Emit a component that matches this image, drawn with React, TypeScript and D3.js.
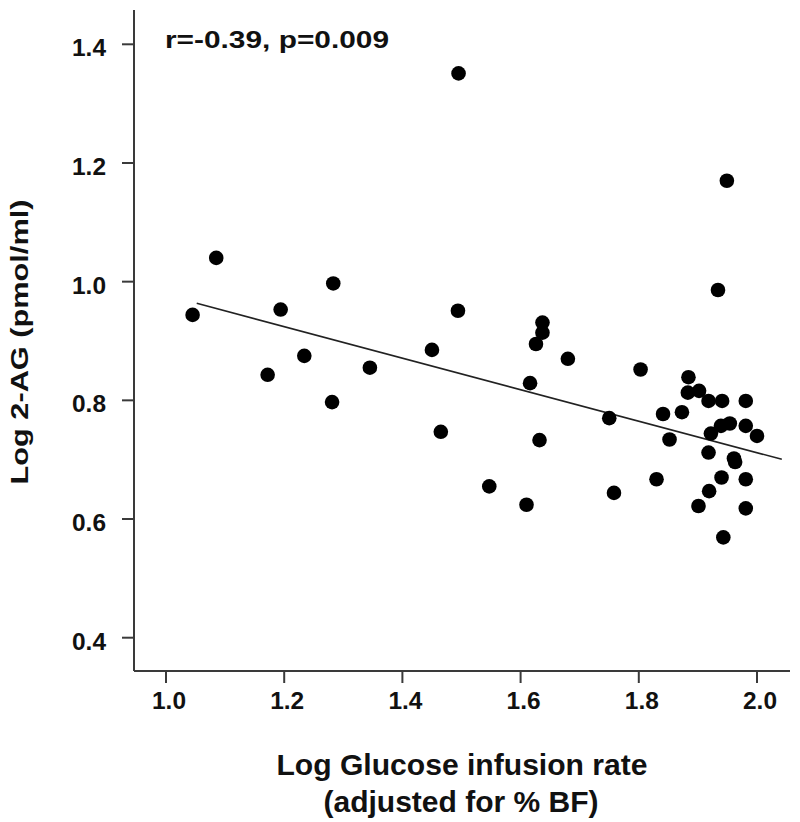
import React from "react";
import * as d3 from "d3";

const xValues = [
  1.085, 1.283, 1.495, 1.949, 1.934,
  1.045, 1.194, 1.494, 1.172, 1.234, 1.281, 1.345, 1.450, 1.465, 1.547,
  1.637, 1.637, 1.626, 1.680, 1.616, 1.632, 1.610, 1.803, 1.750, 1.758,
  1.841, 1.852, 1.830, 1.873, 1.884, 1.883, 1.902, 1.918, 1.941, 1.981,
  1.922, 1.939, 1.954, 1.981, 2.000, 1.918, 1.961, 1.963, 1.940, 1.981,
  1.919, 1.901, 1.981, 1.943,
];
const yValues = [
  1.040, 0.997, 1.351, 1.170, 0.986,
  0.944, 0.953, 0.951, 0.843, 0.875, 0.797, 0.855, 0.885, 0.747, 0.655,
  0.931, 0.914, 0.895, 0.870, 0.829, 0.733, 0.624, 0.852, 0.770, 0.644,
  0.777, 0.734, 0.667, 0.780, 0.839, 0.813, 0.816, 0.799, 0.799, 0.799,
  0.744, 0.757, 0.761, 0.757, 0.740, 0.712, 0.702, 0.696, 0.670, 0.667,
  0.647, 0.622, 0.618, 0.569,
];
const fitX = [1.052, 2.042];
const fitY = [0.9635, 0.7006];
const xTicks = [1.0, 1.2, 1.4, 1.6, 1.8, 2.0];
const yTicks = [0.4, 0.6, 0.8, 1.0, 1.2, 1.4];
const annotation = "r=-0.39, p=0.009";
const xTitle = ["Log Glucose infusion rate", "(adjusted for % BF)"];
const yTitle = "Log 2-AG (pmol/ml)";

export default function App() {
  const W = 800, H = 822;
  const x = d3.scaleLinear().domain([1.0, 2.0]).range([166, 757]);
  const y = d3.scaleLinear().domain([0.4, 1.4]).range([637.7, 44.3]);
  const axX0 = 134, axX1 = 790, axY = 671, axTop = 10;
  const font = "Liberation Sans, Arial, Helvetica, sans-serif";
  const line = d3.line<number>().x((_, i) => x(fitX[i])).y((d) => y(d));
  const fmt = d3.format(".1f");
  const ink = "#111";
  return (
    <svg width={W} height={H} style={{ position: "absolute", left: 0, top: 0, background: "#fff" }} fontFamily={font}>
      <rect width={W} height={H} fill="#fff" />
      {/* axes */}
      <line x1={axX0} x2={axX0} y1={axTop} y2={axY} stroke="#3a3a3a" strokeWidth={2} />
      <line x1={axX0} x2={axX1} y1={axY} y2={axY} stroke="#3a3a3a" strokeWidth={2} />
      {yTicks.map((t) => (
        <g key={"y" + t}>
          <line x1={axX0 - 12} x2={axX0} y1={y(t)} y2={y(t)} stroke="#3a3a3a" strokeWidth={2} />
          <text x={106} y={y(t) + 12} textAnchor="end" fontSize={24.5} fontWeight="bold" fill={ink}
            textLength={34} lengthAdjust="spacingAndGlyphs">{fmt(t)}</text>
        </g>
      ))}
      {xTicks.map((t) => (
        <g key={"x" + t}>
          <line x1={x(t)} x2={x(t)} y1={axY} y2={axY + 12} stroke="#3a3a3a" strokeWidth={2} />
          <text x={x(t) + 3} y={709} textAnchor="middle" fontSize={24.5} fontWeight="bold" fill={ink}
            textLength={34} lengthAdjust="spacingAndGlyphs">{fmt(t)}</text>
        </g>
      ))}
      {/* regression line */}
      <path d={line(fitY) || ""} fill="none" stroke="#222" strokeWidth={1.6} />
      {/* points */}
      {xValues.map((xv, i) => (
        <circle key={i} cx={x(xv)} cy={y(yValues[i])} r={7.3} fill="#000" />
      ))}
      {/* annotation */}
      <text x={165} y={47.5} fontSize={24} fontWeight="bold" fill={ink}
        textLength={224} lengthAdjust="spacingAndGlyphs">{annotation}</text>
      {/* y title */}
      <text transform="translate(28,342) rotate(-90)" textAnchor="middle" fontSize={24} fontWeight="bold" fill={ink}
        textLength={285} lengthAdjust="spacingAndGlyphs">{yTitle}</text>
      {/* x title */}
      <text x={462} y={775} textAnchor="middle" fontSize={30} fontWeight="bold" fill={ink}
        textLength={371} lengthAdjust="spacingAndGlyphs">{xTitle[0]}</text>
      <text x={461} y={812} textAnchor="middle" fontSize={30} fontWeight="bold" fill={ink}
        textLength={275} lengthAdjust="spacingAndGlyphs">{xTitle[1]}</text>
    </svg>
  );
}
